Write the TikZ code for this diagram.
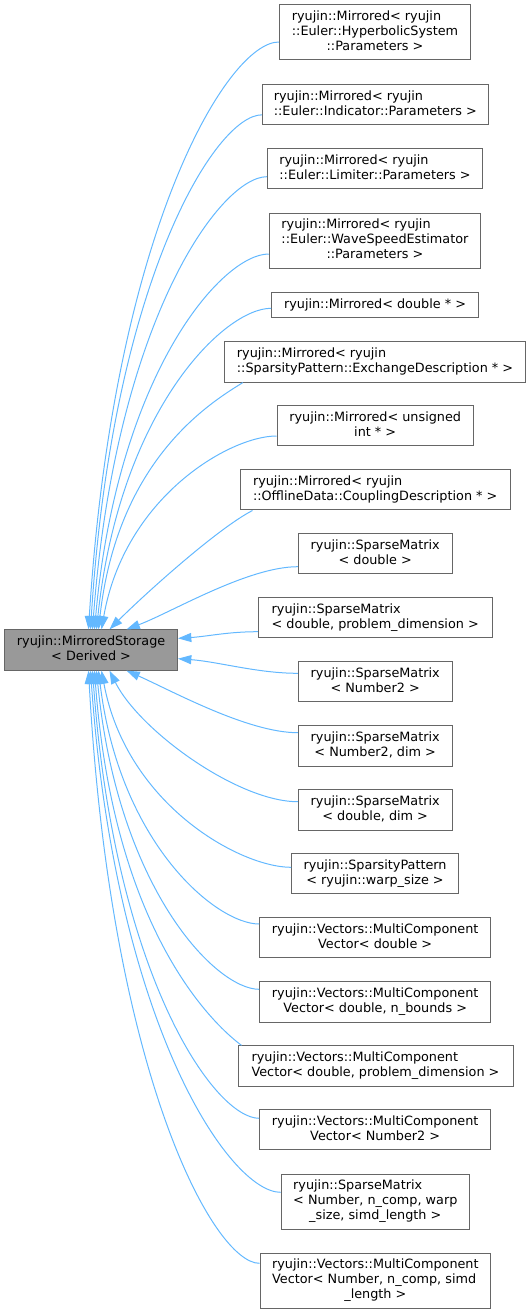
\documentclass[tikz,border=0pt]{standalone}
\usepackage{fontspec}
\setmainfont{DejaVu Sans}
\usetikzlibrary{arrows.meta,calc}
\definecolor{edgeblue}{HTML}{63B8FF}
\definecolor{boxline}{HTML}{666666}
\definecolor{mainfill}{HTML}{999999}
\newcommand{\LeftLn}[1]{\multicolumn{1}{@{}l@{}}{#1}}
\tikzset{
  cls/.style={draw=boxline, fill=white, line width=0.75pt, inner sep=0pt,
    font=\fontsize{9.6pt}{11.25pt}\selectfont, align=center},
  mainbox/.style={cls, fill=mainfill},
  one/.style={minimum height=18.75pt},
  two/.style={minimum height=30.2pt},
  three/.style={minimum height=41.25pt},
  inh/.style={draw=edgeblue, line width=0.75pt, -{Triangle[length=10pt,width=6.8pt]}, fill=none},
}
\begin{document}
\begin{tikzpicture}[x=0.75pt,y=-0.75pt]
\useasboundingbox (0,0) rectangle (531,1313);

\node[mainbox,two,minimum width=129.6pt] (main) at (91.1,650)
  {\begin{tabular}{@{}c@{}}\LeftLn{ryujin::MirroredStorage}\\< Derived >\end{tabular}};

\node[cls,three,minimum width=143.5pt] (b1) at (375,32.5)
  {\begin{tabular}{@{}c@{}}\LeftLn{ryujin::Mirrored< ryujin}\\\LeftLn{::Euler::HyperbolicSystem}\\::Parameters >\end{tabular}};
\node[cls,two,minimum width=169.4pt] (b2) at (375.3,104.85)
  {\begin{tabular}{@{}c@{}}\LeftLn{ryujin::Mirrored< ryujin}\\::Euler::Indicator::Parameters >\end{tabular}};
\node[cls,two,minimum width=161.3pt] (b3) at (375,168.7)
  {\begin{tabular}{@{}c@{}}\LeftLn{ryujin::Mirrored< ryujin}\\::Euler::Limiter::Parameters >\end{tabular}};
\node[cls,three,minimum width=158.5pt] (b4) at (374.9,240.5)
  {\begin{tabular}{@{}c@{}}\LeftLn{ryujin::Mirrored< ryujin}\\\LeftLn{::Euler::WaveSpeedEstimator}\\::Parameters >\end{tabular}};
\node[cls,one,minimum width=155.2pt] (b5) at (375,304.5)
  {ryujin::Mirrored< double * >};
\node[cls,two,minimum width=225.2pt] (b6) at (375,362)
  {\begin{tabular}{@{}c@{}}\LeftLn{ryujin::Mirrored< ryujin}\\::SparsityPattern::ExchangeDescription * >\end{tabular}};
\node[cls,two,minimum width=147.3pt] (b7) at (375.2,425.85)
  {\begin{tabular}{@{}c@{}}\LeftLn{ryujin::Mirrored< unsigned}\\int * >\end{tabular}};
\node[cls,two,minimum width=202.2pt] (b8) at (375.2,489.85)
  {\begin{tabular}{@{}c@{}}\LeftLn{ryujin::Mirrored< ryujin}\\::OfflineData::CouplingDescription * >\end{tabular}};
\node[cls,two,minimum width=115.4pt] (b9) at (375.2,553.85)
  {\begin{tabular}{@{}c@{}}\LeftLn{ryujin::SparseMatrix}\\< double >\end{tabular}};
\node[cls,two,minimum width=175.2pt] (b10) at (375.2,617.85)
  {\begin{tabular}{@{}c@{}}\LeftLn{ryujin::SparseMatrix}\\< double, problem\_dimension >\end{tabular}};
\node[cls,two,minimum width=115.4pt] (b11) at (375.2,681.85)
  {\begin{tabular}{@{}c@{}}\LeftLn{ryujin::SparseMatrix}\\< Number2 >\end{tabular}};
\node[cls,two,minimum width=115.4pt] (b12) at (375.2,746)
  {\begin{tabular}{@{}c@{}}\LeftLn{ryujin::SparseMatrix}\\< Number2, dim >\end{tabular}};
\node[cls,two,minimum width=115.4pt] (b13) at (375.2,810)
  {\begin{tabular}{@{}c@{}}\LeftLn{ryujin::SparseMatrix}\\< double, dim >\end{tabular}};
\node[cls,two,minimum width=125.2pt] (b14) at (375.05,873.85)
  {\begin{tabular}{@{}c@{}}\LeftLn{ryujin::SparsityPattern}\\< ryujin::warp\_size >\end{tabular}};
\node[cls,two,minimum width=173.25pt] (b15) at (375.2,937.85)
  {\begin{tabular}{@{}c@{}}\LeftLn{ryujin::Vectors::MultiComponent}\\Vector< double >\end{tabular}};
\node[cls,two,minimum width=173.25pt] (b16) at (375.2,1002)
  {\begin{tabular}{@{}c@{}}\LeftLn{ryujin::Vectors::MultiComponent}\\Vector< double, n\_bounds >\end{tabular}};
\node[cls,two,minimum width=206.25pt] (b17) at (375.5,1066)
  {\begin{tabular}{@{}c@{}}\LeftLn{ryujin::Vectors::MultiComponent}\\Vector< double, problem\_dimension >\end{tabular}};
\node[cls,two,minimum width=173.25pt] (b18) at (375.2,1129.85)
  {\begin{tabular}{@{}c@{}}\LeftLn{ryujin::Vectors::MultiComponent}\\Vector< Number2 >\end{tabular}};
\node[cls,three,minimum width=141.2pt] (b19) at (375.3,1201.8)
  {\begin{tabular}{@{}c@{}}\LeftLn{ryujin::SparseMatrix}\\\LeftLn{< Number, n\_comp, warp}\\\_size, simd\_length >\end{tabular}};
\node[cls,three,minimum width=173pt] (b20) at (375.35,1280.5)
  {\begin{tabular}{@{}c@{}}\LeftLn{ryujin::Vectors::MultiComponent}\\\LeftLn{Vector< Number, n\_comp, simd}\\\_length >\end{tabular}};

% edges above
\draw[inh] ($(b1.west)+(0,9.5)$) .. controls +(-51,0) and +(25,-400) .. ($(main.north west)+(84.3,0)$);
\draw[inh] ($(b2.west)+(0,10)$) .. controls +(-46,0) and +(22,-350) .. ($(main.north west)+(86.3,0)$);
\draw[inh] ($(b3.west)+(0,8)$) .. controls +(-47,0) and +(23,-308) .. ($(main.north west)+(88.3,0)$);
\draw[inh] ($(b4.west)+(0,13.5)$) .. controls +(-47,0) and +(23,-256) .. ($(main.north west)+(90.3,0)$);
\draw[inh] ($(b5.west)+(0,3.8)$) .. controls +(-47,0) and +(23,-219) .. ($(main.north west)+(92.3,0)$);
\draw[inh] ($(b6.south west)+(18.4,0)$) .. controls +(-34,21) and +(19,-169) .. ($(main.north west)+(94.3,0)$);
\draw[inh] ($(b7.west)+(0,10.15)$) .. controls +(-47,0) and +(23,-132) .. ($(main.north west)+(97.3,0)$);
\draw[inh] ($(b8.south west)+(12.6,0)$) .. controls +(-35,18) and +(35,-35) .. ($(main.north west)+(105.3,0)$);
\draw[inh] ($(b9.west)+(0,12.85)$) .. controls +(-50,0) and +(45,-17) .. ($(main.north west)+(122.3,0)$);
% right side
\draw[inh] ($(b10.west)+(0,13.85)$) .. controls +(-30,0) and +(30,-2) .. ($(main.north east)+(0,9)$);
\draw[inh] ($(b11.west)+(0,-8.55)$) .. controls +(-40,0) and +(40,3) .. ($(main.north east)+(0,29.3)$);
% edges below
\draw[inh] ($(b12.west)+(0,-13.3)$) .. controls +(-50,0) and +(45,20) .. ($(main.south west)+(122.3,0)$);
\draw[inh] ($(b13.west)+(0,-8.3)$) .. controls +(-60,0) and +(30,60) .. ($(main.south west)+(105.3,0)$);
\draw[inh] ($(b14.west)+(0,-6.55)$) .. controls +(-51,0) and +(25,134) .. ($(main.south west)+(97.3,0)$);
\draw[inh] ($(b15.west)+(0,-13.85)$) .. controls +(-43,0) and +(21,173) .. ($(main.south west)+(94.3,0)$);
\draw[inh] ($(b16.west)+(0,-12.7)$) .. controls +(-44,0) and +(21,217) .. ($(main.south west)+(92.3,0)$);
\draw[inh] ($(b17.north west)+(4,0)$) .. controls +(-32,-24) and +(19,256) .. ($(main.south west)+(90.3,0)$);
\draw[inh] ($(b18.west)+(0,-11.55)$) .. controls +(-45,0) and +(22,305) .. ($(main.south west)+(88.3,0)$);
\draw[inh] ($(b19.west)+(0,-9.5)$) .. controls +(-51,0) and +(25,355) .. ($(main.south west)+(86.3,0)$);
\draw[inh] ($(b20.west)+(0,-17.2)$) .. controls +(-46,0) and +(22,403) .. ($(main.south west)+(84.3,0)$);
\end{tikzpicture}
\end{document}
